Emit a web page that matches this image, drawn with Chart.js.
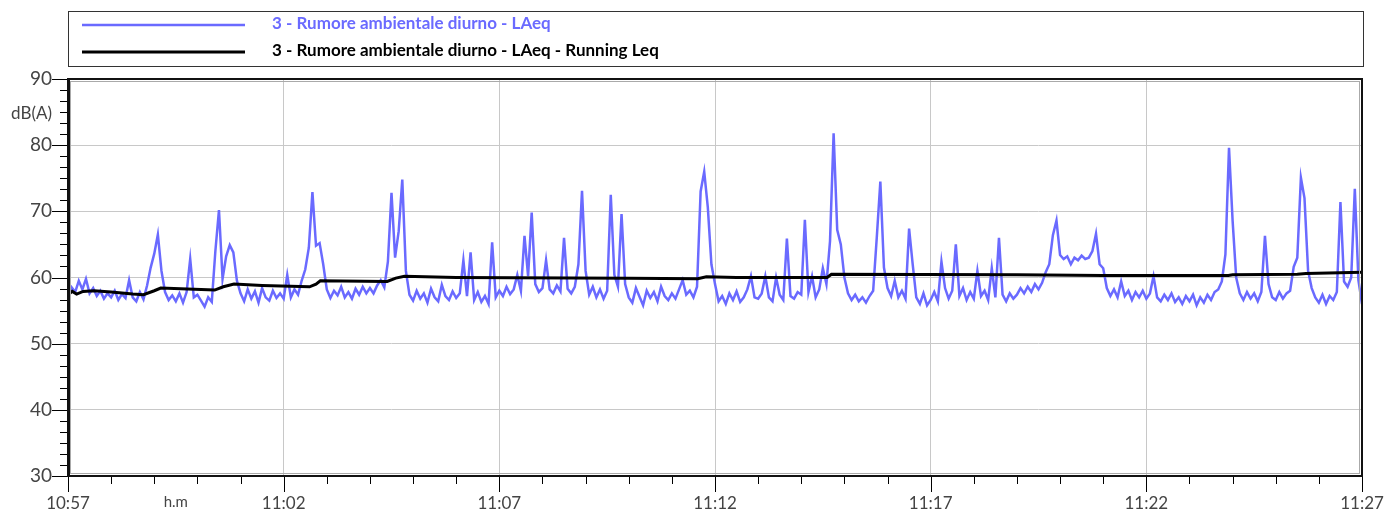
<!DOCTYPE html>
<html><head><meta charset="utf-8">
<script src="https://cdn.jsdelivr.net/npm/chart.js@4/dist/chart.umd.min.js"></script>
<style>html,body{margin:0;padding:0;background:#fff;} #wrap{width:1386px;height:509px;position:relative;}</style>
</head><body><div id="wrap"><canvas id="c" width="1386" height="509"></canvas></div>
<script>
const seriesLabels = ['3 - Rumore ambientale diurno - LAeq', '3 - Rumore ambientale diurno - LAeq - Running Leq'];
const timeLabels = ['10:57', '11:02', '11:07', '11:12', '11:17', '11:22', '11:27'];
const yUnit = 'dB(A)';
const xUnit = 'h.m';
const sampleStepSec = 5;

// LAeq, one value every 5 s from 10:57 to 11:27
const laeq = [
  57.0,58.5,57.8,59.5,58.2,59.8,57.6,58.4,57.2,58.0,56.8,57.6,
  57.0,58.0,56.6,57.5,56.9,59.6,57.0,56.4,57.8,56.7,58.8,61.5,
  63.6,66.5,61.0,57.8,56.6,57.3,56.4,57.6,56.2,57.8,62.8,57.0,
  57.4,56.5,55.6,57.0,56.3,64.0,70.2,59.8,63.2,64.9,63.8,59.5,
  57.6,56.4,58.2,56.8,57.9,56.2,58.4,57.0,56.5,58.0,56.9,57.6,
  56.8,60.4,57.0,58.2,57.4,59.5,61.2,64.5,72.9,64.8,65.2,62.0,
  58.2,56.9,58.0,57.3,58.6,57.0,57.8,56.8,58.3,57.4,58.6,57.6,
  58.4,57.6,58.8,59.6,58.5,62.4,72.8,63.0,67.0,74.8,61.0,57.4,
  56.5,58.0,56.8,57.6,56.2,58.3,57.0,56.4,58.9,57.2,56.6,57.9,
  56.9,57.6,62.6,57.2,63.8,56.6,57.8,56.3,57.2,56.0,65.3,57.0,
  58.0,57.2,58.6,57.5,58.2,60.4,58.0,66.3,60.2,69.8,59.0,57.8,
  58.4,62.6,58.2,57.6,58.8,57.9,66.0,58.3,57.6,58.6,62.0,73.1,
  61.0,57.4,58.6,57.0,58.2,56.8,58.0,72.5,60.4,58.6,69.6,59.0,
  57.0,56.2,58.4,57.1,55.8,58.0,56.9,57.8,56.4,58.6,57.2,56.6,
  57.6,56.8,58.2,59.6,57.4,58.0,57.0,58.6,73.0,76.0,70.6,62.0,
  59.0,56.4,57.2,56.0,57.6,56.6,57.9,56.3,57.0,58.2,60.2,57.0,
  56.8,57.6,60.2,57.0,56.4,60.0,57.4,56.6,65.9,57.2,56.8,57.8,
  57.4,68.7,57.8,60.2,57.0,58.2,61.4,59.0,65.5,81.8,67.2,65.0,
  60.0,57.6,56.6,57.4,56.4,57.0,56.2,57.2,58.0,66.0,74.5,61.5,
  58.4,57.2,59.5,57.0,58.0,56.8,67.4,62.0,57.0,56.0,57.6,55.8,
  56.6,57.8,56.4,62.4,58.4,56.8,58.0,65.0,57.2,58.4,56.6,57.8,
  56.8,61.0,57.2,58.0,56.6,61.4,57.0,66.0,57.4,56.4,57.6,56.8,
  57.4,58.4,57.6,58.6,57.8,59.0,58.2,59.2,60.8,62.0,66.4,68.6,
  63.4,62.8,63.2,62.0,63.0,62.6,63.3,62.8,63.0,64.0,66.6,62.0,
  61.4,58.4,57.2,58.2,57.0,59.4,57.2,58.0,56.6,57.8,57.0,58.0,
  56.8,57.6,60.2,57.0,56.4,57.4,56.6,57.6,56.3,57.0,56.0,57.2,
  56.4,57.4,55.8,57.0,56.2,57.4,56.6,57.8,58.2,59.4,63.5,79.6,
  68.6,60.0,57.6,56.6,57.8,56.8,57.6,56.4,57.8,66.3,59.0,57.0,
  56.6,57.8,56.8,57.6,58.0,61.6,63.0,75.1,72.0,61.0,58.4,57.0,
  56.2,57.4,56.0,57.2,56.6,57.8,71.4,59.4,58.6,60.0,73.4,59.6,
  56.0
];

// Running Leq: minutes after 10:57 and values
const leqMinutes = [0, 0.1, 0.2, 0.35, 0.6, 1.0, 1.5, 1.75, 2.0, 2.15, 3.4, 3.6, 3.85, 4.5, 5.6, 5.75, 5.85, 7.4, 7.6, 7.8, 9.0, 13.0, 14.6, 14.8, 15.5, 17.6, 17.7, 22.0, 24.0, 26.9, 27.0, 28.5, 28.7, 30.0];
const leqValues  = [57.4, 57.9, 57.5, 57.9, 58.0, 57.8, 57.5, 57.4, 58.0, 58.4, 58.1, 58.6, 59.0, 58.8, 58.6, 59.0, 59.5, 59.4, 59.9, 60.2, 60.0, 59.9, 59.8, 60.1, 60.0, 60.0, 60.5, 60.4, 60.3, 60.3, 60.4, 60.5, 60.6, 60.8];

const laeqPoints = laeq.map((v, i) => ({ x: i * sampleStepSec / 60, y: v }));
const leqPoints = leqMinutes.map((m, i) => ({ x: m, y: leqValues[i] }));

const BLUE = '#6a6aff';
const FONT = 'Lato, "Open Sans", sans-serif';
const TXT = '#444';

const decor = {
  id: 'decor',
  afterDraw(chart) {
    const { ctx, chartArea: a, scales: { x, y } } = chart;
    ctx.save();
    // tick marks
    ctx.strokeStyle = '#000';
    ctx.lineWidth = 1;
    for (let m = 0; m <= 30; m++) {
      const px = Math.round(x.getPixelForValue(m)) + 0.5;
      const major = m % 5 === 0;
      ctx.beginPath(); ctx.moveTo(px, a.bottom); ctx.lineTo(px, a.bottom + (major ? 16 : 8)); ctx.stroke();
    }
    for (let k = 0; k <= 36; k++) {
      const py = Math.round(y.getPixelForValue(30 + k * 10 / 6)) + 0.5;
      const major = k % 6 === 0;
      ctx.beginPath(); ctx.moveTo(a.left, py); ctx.lineTo(a.left - (major ? 16 : 8), py); ctx.stroke();
    }
    // frame
    ctx.strokeStyle = '#aaa'; ctx.lineWidth = 1;
    ctx.strokeRect(a.left + 2.5, a.top + 2.5, a.right - a.left - 5, a.bottom - a.top - 5);
    ctx.strokeStyle = '#111'; ctx.lineWidth = 2;
    ctx.strokeRect(a.left, a.top, a.right - a.left, a.bottom - a.top);
    ctx.fillStyle = '#111';
    ctx.fillRect(a.left - 1, a.top - 1, 3, a.bottom - a.top + 2);
    // axis unit labels
    ctx.fillStyle = TXT;
    ctx.font = '17px ' + FONT;
    ctx.textAlign = 'right'; ctx.textBaseline = 'middle';
    ctx.fillText(yUnit, a.left - 16, 114);
    ctx.font = '15px ' + FONT;
    ctx.textAlign = 'center';
    ctx.fillText(xUnit, x.getPixelForValue(2.5), 502);
    // legend
    ctx.strokeStyle = '#333'; ctx.lineWidth = 1;
    ctx.strokeRect(68.5, 11.5, 1295, 55);
    const ds = chart.data.datasets;
    const rows = [25, 52];
    ds.forEach((d, i) => {
      ctx.strokeStyle = d.borderColor; ctx.lineWidth = d.borderWidth;
      ctx.beginPath(); ctx.moveTo(82, rows[i]); ctx.lineTo(245, rows[i]); ctx.stroke();
      ctx.fillStyle = d.borderColor;
      ctx.font = 'bold 17px ' + FONT;
      ctx.textAlign = 'left'; ctx.textBaseline = 'middle';
      ctx.fillText(d.label, 272, rows[i] - 1);
    });
    ctx.restore();
  }
};

new Chart(document.getElementById('c'), {
  type: 'line',
  data: {
    datasets: [
      { label: seriesLabels[0], data: laeqPoints, borderColor: BLUE, borderWidth: 2.5, order: 1 },
      { label: seriesLabels[1], data: leqPoints, borderColor: '#000', borderWidth: 3, order: 0 }
    ]
  },
  options: {
    responsive: false,
    animation: false,
    layout: { padding: { top: 79, right: 24, left: 0, bottom: 0 } },
    plugins: { legend: { display: false }, tooltip: { enabled: false } },
    elements: { point: { radius: 0 }, line: { tension: 0 } },
    scales: {
      x: {
        type: 'linear', min: 0, max: 30,
        afterFit(s) { s.height = 33; s.paddingLeft = 0; s.paddingRight = 0; },
        border: { display: false },
        grid: { color: '#c8c8c8', drawTicks: false },
        ticks: { stepSize: 5, padding: 17, color: TXT, maxRotation: 0, autoSkip: false,
          font: { family: FONT, size: 17 },
          callback: (v) => (v % 5 === 0 ? timeLabels[v / 5] : '') }
      },
      y: {
        min: 30, max: 90,
        afterFit(s) { s.width = 68; s.paddingTop = 0; s.paddingBottom = 0; },
        border: { display: false },
        grid: { color: '#c8c8c8', drawTicks: false },
        ticks: { stepSize: 10, padding: 16, color: TXT, font: { family: FONT, size: 19 } }
      }
    }
  },
  plugins: [decor]
});
</script>
</body></html>
